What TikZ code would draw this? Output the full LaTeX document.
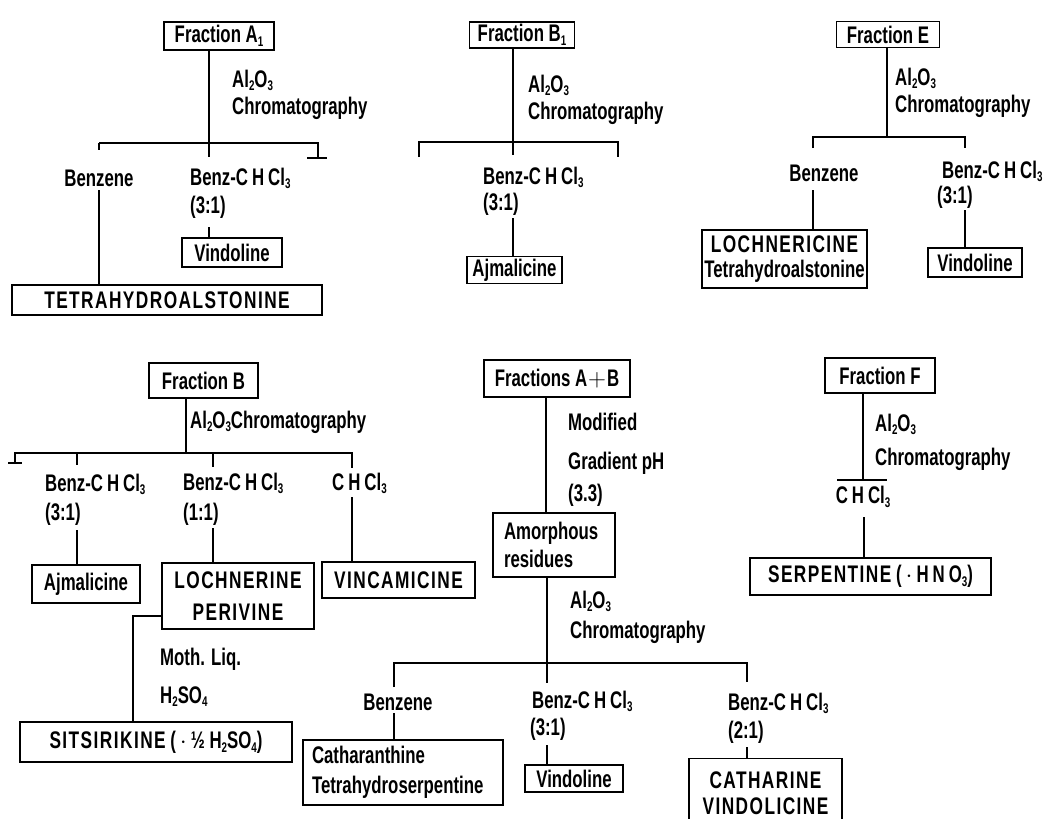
\documentclass[tikz,border=0pt]{standalone}
\usepackage{fontspec}
\newfontfamily\fnA[FakeStretch=0.70]{Liberation Sans}
\newfontfamily\fnC[FakeStretch=0.72,LetterSpace=6]{Liberation Sans}
\newcommand\lowsub[1]{\raisebox{-0.3ex}{\fontsize{14}{14}\selectfont #1}}
\begin{document}
\begin{tikzpicture}[x=1pt,y=-1pt,
  every node/.style={font=\fnA\bfseries\fontsize{24}{26}\selectfont, inner sep=0pt},
  bx/.style={draw, line width=1.4pt},
  lab/.style={anchor=base west},
  ln/.style={line width=1.3pt},
  caps/.style={font=\fnC\bfseries\fontsize{24}{#1}\selectfont},
  two/.style={font=\fnA\bfseries\fontsize{24}{#1}\selectfont}]
\useasboundingbox (0,0) rectangle (1050,819);

% ---------- Fraction A1 ----------
\node[bx,minimum width=110,minimum height=28] (fA1) at (219,36) {Fraction A\lowsub{1}};
\node[lab] (a1al) at (232,87) {Al\lowsub{2}O\lowsub{3}};
\node[lab] (a1ch) at (232,114) {Chromatography};
\node (a1bz) at (99,178) {Benzene};
\node[lab] (a1bc) at (190,185) {Benz-C\,H\,Cl\lowsub{3}};
\node[lab] (a1r) at (190,213) {(3:1)};
\node[bx,minimum width=100,minimum height=29] (a1v) at (232,252.5) {Vindoline};
\node[bx,caps=26,minimum width=310,minimum height=30] (a1t) at (167,300) {TETRAHYDROALSTONINE};
\coordinate (a1L) at (99,143);
\coordinate (a1C) at (209,143);
\coordinate (a1R) at (318,143);
\draw[ln] (fA1.south -| a1C) -- (a1C) -- ++(0,14);
\draw[ln] (a1L) -- ++(0,7) (a1L) -- (a1R) -- ++(0,15) ++(-11,0) -- ++(20,0);
\draw[ln] (99,190) -- (a1L |- a1t.north);
\draw[ln] (209,227) -- (a1C |- a1v.north);

% ---------- Fraction B1 ----------
\node[bx,minimum width=105,minimum height=26] (fB1) at (522,35) {Fraction B\lowsub{1}};
\node[lab] (b1al) at (528,92) {Al\lowsub{2}O\lowsub{3}};
\node[lab] (b1ch) at (528,119) {Chromatography};
\node[lab] (b1bc) at (483,184) {Benz-C\,H\,Cl\lowsub{3}};
\node[lab] (b1r) at (483,210) {(3:1)};
\node[bx,minimum width=95,minimum height=27] (b1a) at (514.5,270) {Ajmalicine};
\coordinate (b1C) at (513,142);
\draw[ln] (fB1.south -| b1C) -- (b1C) -- ++(0,13);
\draw[ln] (419,157) -- (419,142) -- (618,142) -- (618,157);
\draw[ln] (513,218) -- (b1C |- b1a.north);

% ---------- Fraction E ----------
\node[bx,minimum width=103,minimum height=26] (fE) at (888,34.5) {Fraction E};
\node[lab] (eal) at (895,85) {Al\lowsub{2}O\lowsub{3}};
\node[lab] (ech) at (895,112) {Chromatography};
\node (ebz) at (824,173) {Benzene};
\node[lab] (ebc) at (942,178) {Benz-C\,H\,Cl\lowsub{3}};
\node[lab] (er) at (937,203) {(3:1)};
\node[bx,two=25,align=center,minimum width=165,minimum height=58] (eL) at (784.5,259) {{\fnC LOCHNERICINE}\\Tetrahydroalstonine};
\node[bx,minimum width=94,minimum height=29] (eV) at (975,262.5) {Vindoline};
\coordinate (eC) at (887,137);
\draw[ln] (fE.south -| eC) -- (eC);
\draw[ln] (813,148) -- (813,137) -- (965,137) -- (965,148);
\draw[ln] (813,190) -- (813,0 |- eL.north);
\draw[ln] (965,210) -- (965,0 |- eV.north);

% ---------- Fraction B ----------
\node[bx,minimum width=109,minimum height=35] (fB) at (203.5,380.5) {Fraction B};
\node[lab] (bal) at (190,428) {Al\lowsub{2}O\lowsub{3}Chromatography};
\node[lab] (bbc1) at (45,491) {Benz-C\,H\,Cl\lowsub{3}};
\node[lab] (br1) at (45,520) {(3:1)};
\node[lab] (bbc2) at (183,490) {Benz-C\,H\,Cl\lowsub{3}};
\node[lab] (br2) at (183,520) {(1:1)};
\node[lab] (bch) at (332,490) {C\,H\,Cl\lowsub{3}};
\node[bx,minimum width=108,minimum height=38] (bA) at (86,584) {Ajmalicine};
\node[bx,caps=32,align=center,minimum width=152,minimum height=66] (bL) at (238,596) {LOCHNERINE\\PERIVINE};
\node[bx,caps=26,minimum width=153,minimum height=36] (bV) at (398.5,580) {VINCAMICINE};
\node[lab] (bml) at (160,665) {Moth. Liq.};
\node[lab] (bh) at (160,703) {H\lowsub{2}SO\lowsub{4}};
\node[bx,minimum width=272,minimum height=40] (bS) at (156,742) {{\fnC SITSIRIKINE} (\,$\cdot$\,½ H\lowsub{2}SO\lowsub{4})};
\coordinate (bC) at (186,453);
\draw[ln] (fB.south -| bC) -- (bC);
\draw[ln] (8,463) -- (22,463) (15,463) -- (15,453) -- (352,453) -- (352,468);
\draw[ln] (77,453) -- (77,465);
\draw[ln] (213,453) -- (213,467);
\draw[ln] (77,530) -- (77,0 |- bA.north);
\draw[ln] (213,528) -- (213,0 |- bL.north);
\draw[ln] (352,497) -- (352,0 |- bV.north);
\draw[ln] (bL.west |- 0,616) -- (133,616) -- (133,0 |- bS.north);

% ---------- Fractions A+B ----------
\node[bx,minimum width=146,minimum height=37] (fAB) at (557,378.5) {Fractions A\kern1pt$+$\kern1pt B};
\node[lab] (abm) at (568,430) {Modified};
\node[lab] (abg) at (568,469) {Gradient pH};
\node[lab] (abp) at (568,501) {(3.3)};
\node[bx,two=28,align=left,minimum width=122,minimum height=64,text width=100] (aAm) at (554,545) {Amorphous\\residues};
\node[lab] (abal) at (570,608) {Al\lowsub{2}O\lowsub{3}};
\node[lab] (abch) at (570,638) {Chromatography};
\node (abz) at (398,702) {Benzene};
\node[lab] (abc1) at (532,708) {Benz-C\,H\,Cl\lowsub{3}};
\node[lab] (abr1) at (530,735) {(3:1)};
\node[lab] (abc2) at (728,710) {Benz-C\,H\,Cl\lowsub{3}};
\node[lab] (abr2) at (728,738) {(2:1)};
\node[bx,two=30,align=left,minimum width=200,minimum height=65,text width=182] (aC) at (403,772.5) {Catharanthine\\Tetrahydroserpentine};
\node[bx,minimum width=98,minimum height=27] (aV) at (574,778.5) {Vindoline};
\node[bx,caps=26,align=center,anchor=north,minimum width=153,minimum height=70] (aCV) at (765.5,758) {CATHARINE\\VINDOLICINE};
\draw[ln] (fAB.south -| 546,0) -- (546,0 |- aAm.north);
\draw[ln] (aAm.south -| 547,0) -- (547,683);
\draw[ln] (394,687) -- (394,663) -- (747,663) -- (747,682);
\draw[ln] (394,713) -- (394,0 |- aC.north);
\draw[ln] (547,745) -- (547,0 |- aV.north);
\draw[ln] (747,747) -- (747,0 |- aCV.north);

% ---------- Fraction F ----------
\node[bx,minimum width=110,minimum height=35] (fF) at (880,375.5) {Fraction F};
\node[lab] (fal) at (875,431) {Al\lowsub{2}O\lowsub{3}};
\node[lab] (fch) at (875,465) {Chromatography};
\node (fcl) at (863,497) {C\,H\,Cl\lowsub{3}};
\node[bx,minimum width=241,minimum height=37] (fS) at (870.5,576.5) {{\fnC SERPENTINE} (\,$\cdot$\,H\,N\,O\lowsub{3})};
\coordinate (fC) at (863,480);
\draw[ln] (fF.south -| fC) -- (fC);
\draw[ln] (837,480) -- (887,480);
\draw[ln] (864,517) -- (864,0 |- fS.north);
\end{tikzpicture}
\end{document}
